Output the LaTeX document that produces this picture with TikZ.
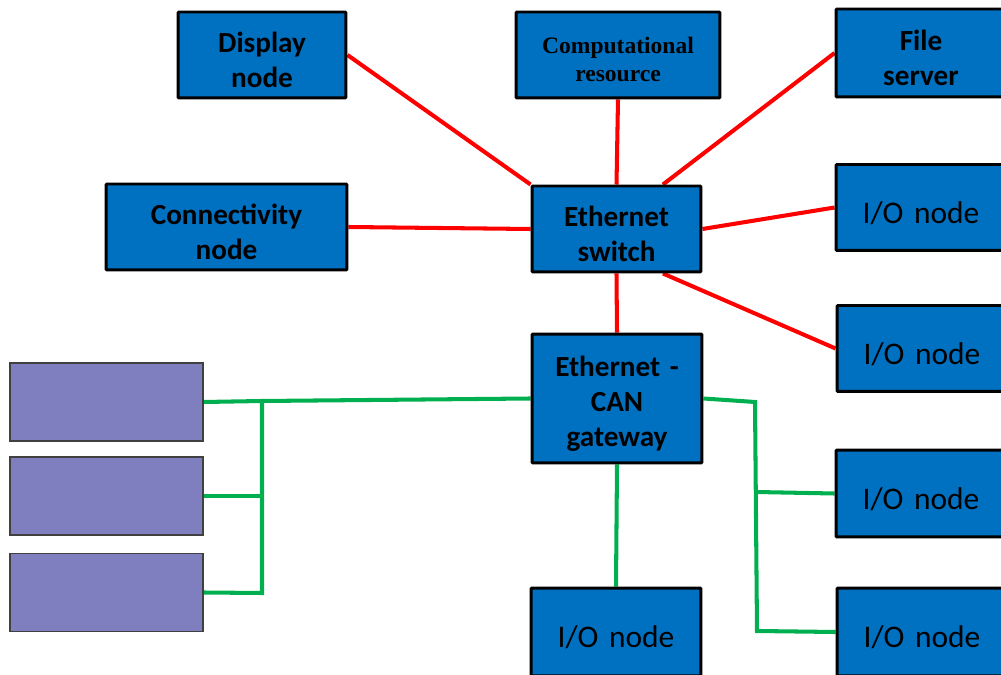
\documentclass[tikz,border=0pt]{standalone}
\usepackage{fontspec}
\setmainfont{Carlito}
\newfontfamily\serifbold{Liberation Serif}
\definecolor{boxblue}{HTML}{0070C0}
\definecolor{ecupurple}{HTML}{7F7FBF}
\definecolor{ethred}{HTML}{FF0000}
\definecolor{cangreen}{HTML}{00B050}
\usetikzlibrary{calc,backgrounds}
\tikzset{
  node_box/.style={draw=black,fill=boxblue,line width=1.7pt,rounded corners=0.5pt,
    minimum width=3.4cm,minimum height=1.72cm,inner sep=2pt,
    text width=3.2cm,align=center,
    font=\fontsize{16.6}{19.8}\selectfont\bfseries,
    execute at begin node={\rule{0pt}{1.05em}}},
  io_box/.style={node_box,font=\fontsize{17.9}{21}\selectfont,
    execute at begin node={\rule{0pt}{0.85em}}},
  ecu_box/.style={draw=black!75,fill=ecupurple,line width=0.6pt,
    minimum width=3.86cm,minimum height=1.56cm},
  eth_link/.style={draw=ethred,line width=2.3pt},
  can_link/.style={draw=cangreen,line width=2.3pt},
}

\begin{document}
\begin{tikzpicture}[x=0.02cm,y=-0.02cm]
    \useasboundingbox (0,0) rectangle (1001,675);
    \clip (0,0) rectangle (1001,675);

    % Ethernet backbone
    \node[node_box,minimum width=3.36cm] (disp) at (262,55) {Display\\node};
    \node[node_box,minimum width=4.08cm,execute at begin node={\rule{0pt}{0.75em}},
      font=\serifbold\fontsize{13.4}{15.9}\selectfont\bfseries] (comp) at (618,55) {Computational\\resource};
    \node[node_box,minimum height=1.76cm] (fs) at (921,53) {File\\server};
    \node[node_box,minimum width=4.82cm] (conn) at (226.5,227) {Connectivity\\node};
    \node[node_box,minimum width=3.38cm] (sw) at (616.5,229) {Ethernet\\switch};
    \node[io_box] (io1) at (921,207.5) {I/O node};
    \node[io_box] (io2) at (922,348.5) {I/O node};

    % CAN bus
    \node[node_box,minimum height=2.58cm] (gw) at (617,398.5) {Ethernet -\\CAN\\gateway};
    \node[io_box,minimum height=1.74cm] (io3) at (921,493.5) {I/O node};
    \node[io_box,minimum height=1.76cm] (io4) at (922,632) {I/O node};
    \node[io_box,minimum height=1.76cm] (io5) at (616,632) {I/O node};
    \node[ecu_box] (ecu1) at (106.5,402) {};
    \node[ecu_box] (ecu2) at (106.5,496) {};
    \node[ecu_box] (ecu3) at (106.5,592.5) {};

    \coordinate (jl) at (262,401);
    \coordinate (jlb) at (262,593);
    \coordinate (jr) at (755,402);
    \coordinate (jrm) at (756,492);
    \coordinate (jrb) at (757,631);

    \begin{scope}[on background layer]
      \draw[eth_link] (disp.east) -- (sw.north west);
      \draw[eth_link] (comp.south) -- (sw.north);
      \draw[eth_link] (fs.west) -- ($(sw.north west)!0.77!(sw.north east)$);
      \draw[eth_link] (conn.east) -- (sw.west);
      \draw[eth_link] (sw.east) -- (io1.west);
      \draw[eth_link] ($(sw.south west)!0.77!(sw.south east)$) -- (io2.west);
      \draw[eth_link] (sw.south) -- (gw.north);

      \draw[can_link] (gw.west) -- (jl) -- (ecu1.east);
      \draw[can_link] (jl) -- (jlb) -- (ecu3.east);
      \draw[can_link] (ecu2.east) -- (ecu2.east -| jl);
      \draw[can_link] (gw.east) -- (jr) -- (jrb) -- (io4.west);
      \draw[can_link] (jrm) -- (io3.west);
      \draw[can_link] (gw.south) -- (io5.north);
    \end{scope}
\end{tikzpicture}
\end{document}
